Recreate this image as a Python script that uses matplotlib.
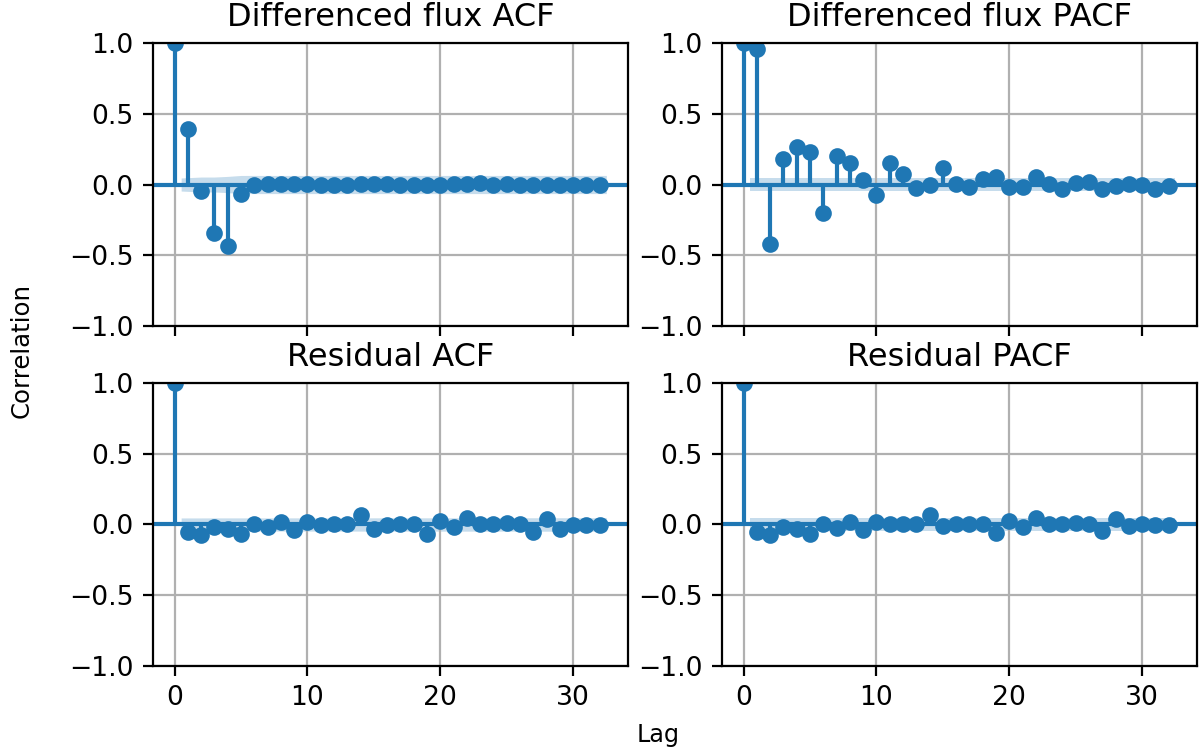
import numpy as np
import matplotlib
matplotlib.use("Agg")
import matplotlib.pyplot as plt

# Data (lags 0..32)
lags = np.arange(33)

diff_acf = [1.0, 0.39, -0.045, -0.34, -0.435, -0.07,
            0.0, 0.005, 0.005, 0.005, 0.003, 0.0, 0.0, 0.0, 0.003, 0.003,
            0.003, 0.0, 0.0, 0.0, 0.0, 0.003, 0.003, 0.008, 0.0, 0.003,
            0.0, 0.0, 0.0, 0.0, 0.0, 0.0, 0.0]

diff_pacf = [1.0, 0.96, -0.42, 0.18, 0.265, 0.23,
             -0.2, 0.2, 0.15, 0.035, -0.073, 0.15, 0.071, -0.024, 0.0, 0.116,
             0.005, -0.019, 0.04, 0.052, -0.019, -0.019, 0.052, 0.005, -0.035, 0.009,
             0.017, -0.031, -0.014, 0.005, 0.0, -0.031, -0.012]

resid_acf = [1.0, -0.054, -0.071, -0.019, -0.031, -0.066,
             0.005, -0.019, 0.017, -0.038, 0.017, -0.007, 0.0, 0.0, 0.064, -0.031,
             -0.007, 0.0, 0.0, -0.066, 0.028, -0.019, 0.047, 0.0, 0.0, 0.012,
             0.0, -0.05, 0.04, -0.031, -0.007, -0.007, -0.007]

resid_pacf = [1.0, -0.054, -0.071, -0.019, -0.035, -0.066,
              0.005, -0.024, 0.017, -0.038, 0.017, 0.0, 0.0, 0.005, 0.064, -0.014,
              0.0, 0.0, 0.0, -0.059, 0.024, -0.019, 0.047, 0.005, 0.0, 0.012,
              0.0, -0.043, 0.04, -0.014, 0.0, -0.007, -0.007]

n_obs = 1800  # approximate sample size behind the confidence bands

panels = [
    ("Differenced flux ACF", diff_acf, "acf"),
    ("Differenced flux PACF", diff_pacf, "pacf"),
    ("Residual ACF", resid_acf, "acf"),
    ("Residual PACF", resid_pacf, "pacf"),
]


def band_width(vals, kind):
    vals = np.asarray(vals)
    if kind == "pacf":
        var = np.full(len(vals), 1.0 / n_obs)
    else:
        # Bartlett formula
        var = np.ones(len(vals)) / n_obs
        var[2:] *= 1 + 2 * np.cumsum(vals[1:-1] ** 2)
    return 1.96 * np.sqrt(var)


fig, axes = plt.subplots(2, 2, figsize=(6.02, 3.77), dpi=200, sharex=True)
fig.subplots_adjust(left=0.127, right=0.9942, top=0.943, bottom=0.1167,
                    wspace=0.198, hspace=0.201)

for ax, (title, vals, kind) in zip(axes.flat, panels):
    vals = np.asarray(vals)
    ax.vlines(lags, 0, vals, color="C0", lw=1.5)
    ax.axhline(0, color="C0", lw=1.5)
    ax.plot(lags, vals, "o", color="C0", markersize=5)
    w = band_width(vals, kind)[1:]
    x = lags[1:].astype(float)
    x[0] -= 0.5
    x[-1] += 0.5
    ax.fill_between(x, -w, w, color="C0", alpha=0.25, lw=0)
    ax.set_ylim(-1, 1)
    ax.set_yticks([-1.0, -0.5, 0.0, 0.5, 1.0])
    ax.grid(True)
    ax.set_title(title, fontsize=11.5, pad=6)
    ax.tick_params(labelsize=9.6)

fig.text(22 / 1204, 1 - 350 / 754, "Correlation", rotation=90,
         ha="center", va="center", fontsize=8.8)
fig.text(658 / 1204, 1 - 735 / 754, "Lag", ha="center", va="center", fontsize=8.6)

fig.savefig("out.png", dpi=200)
